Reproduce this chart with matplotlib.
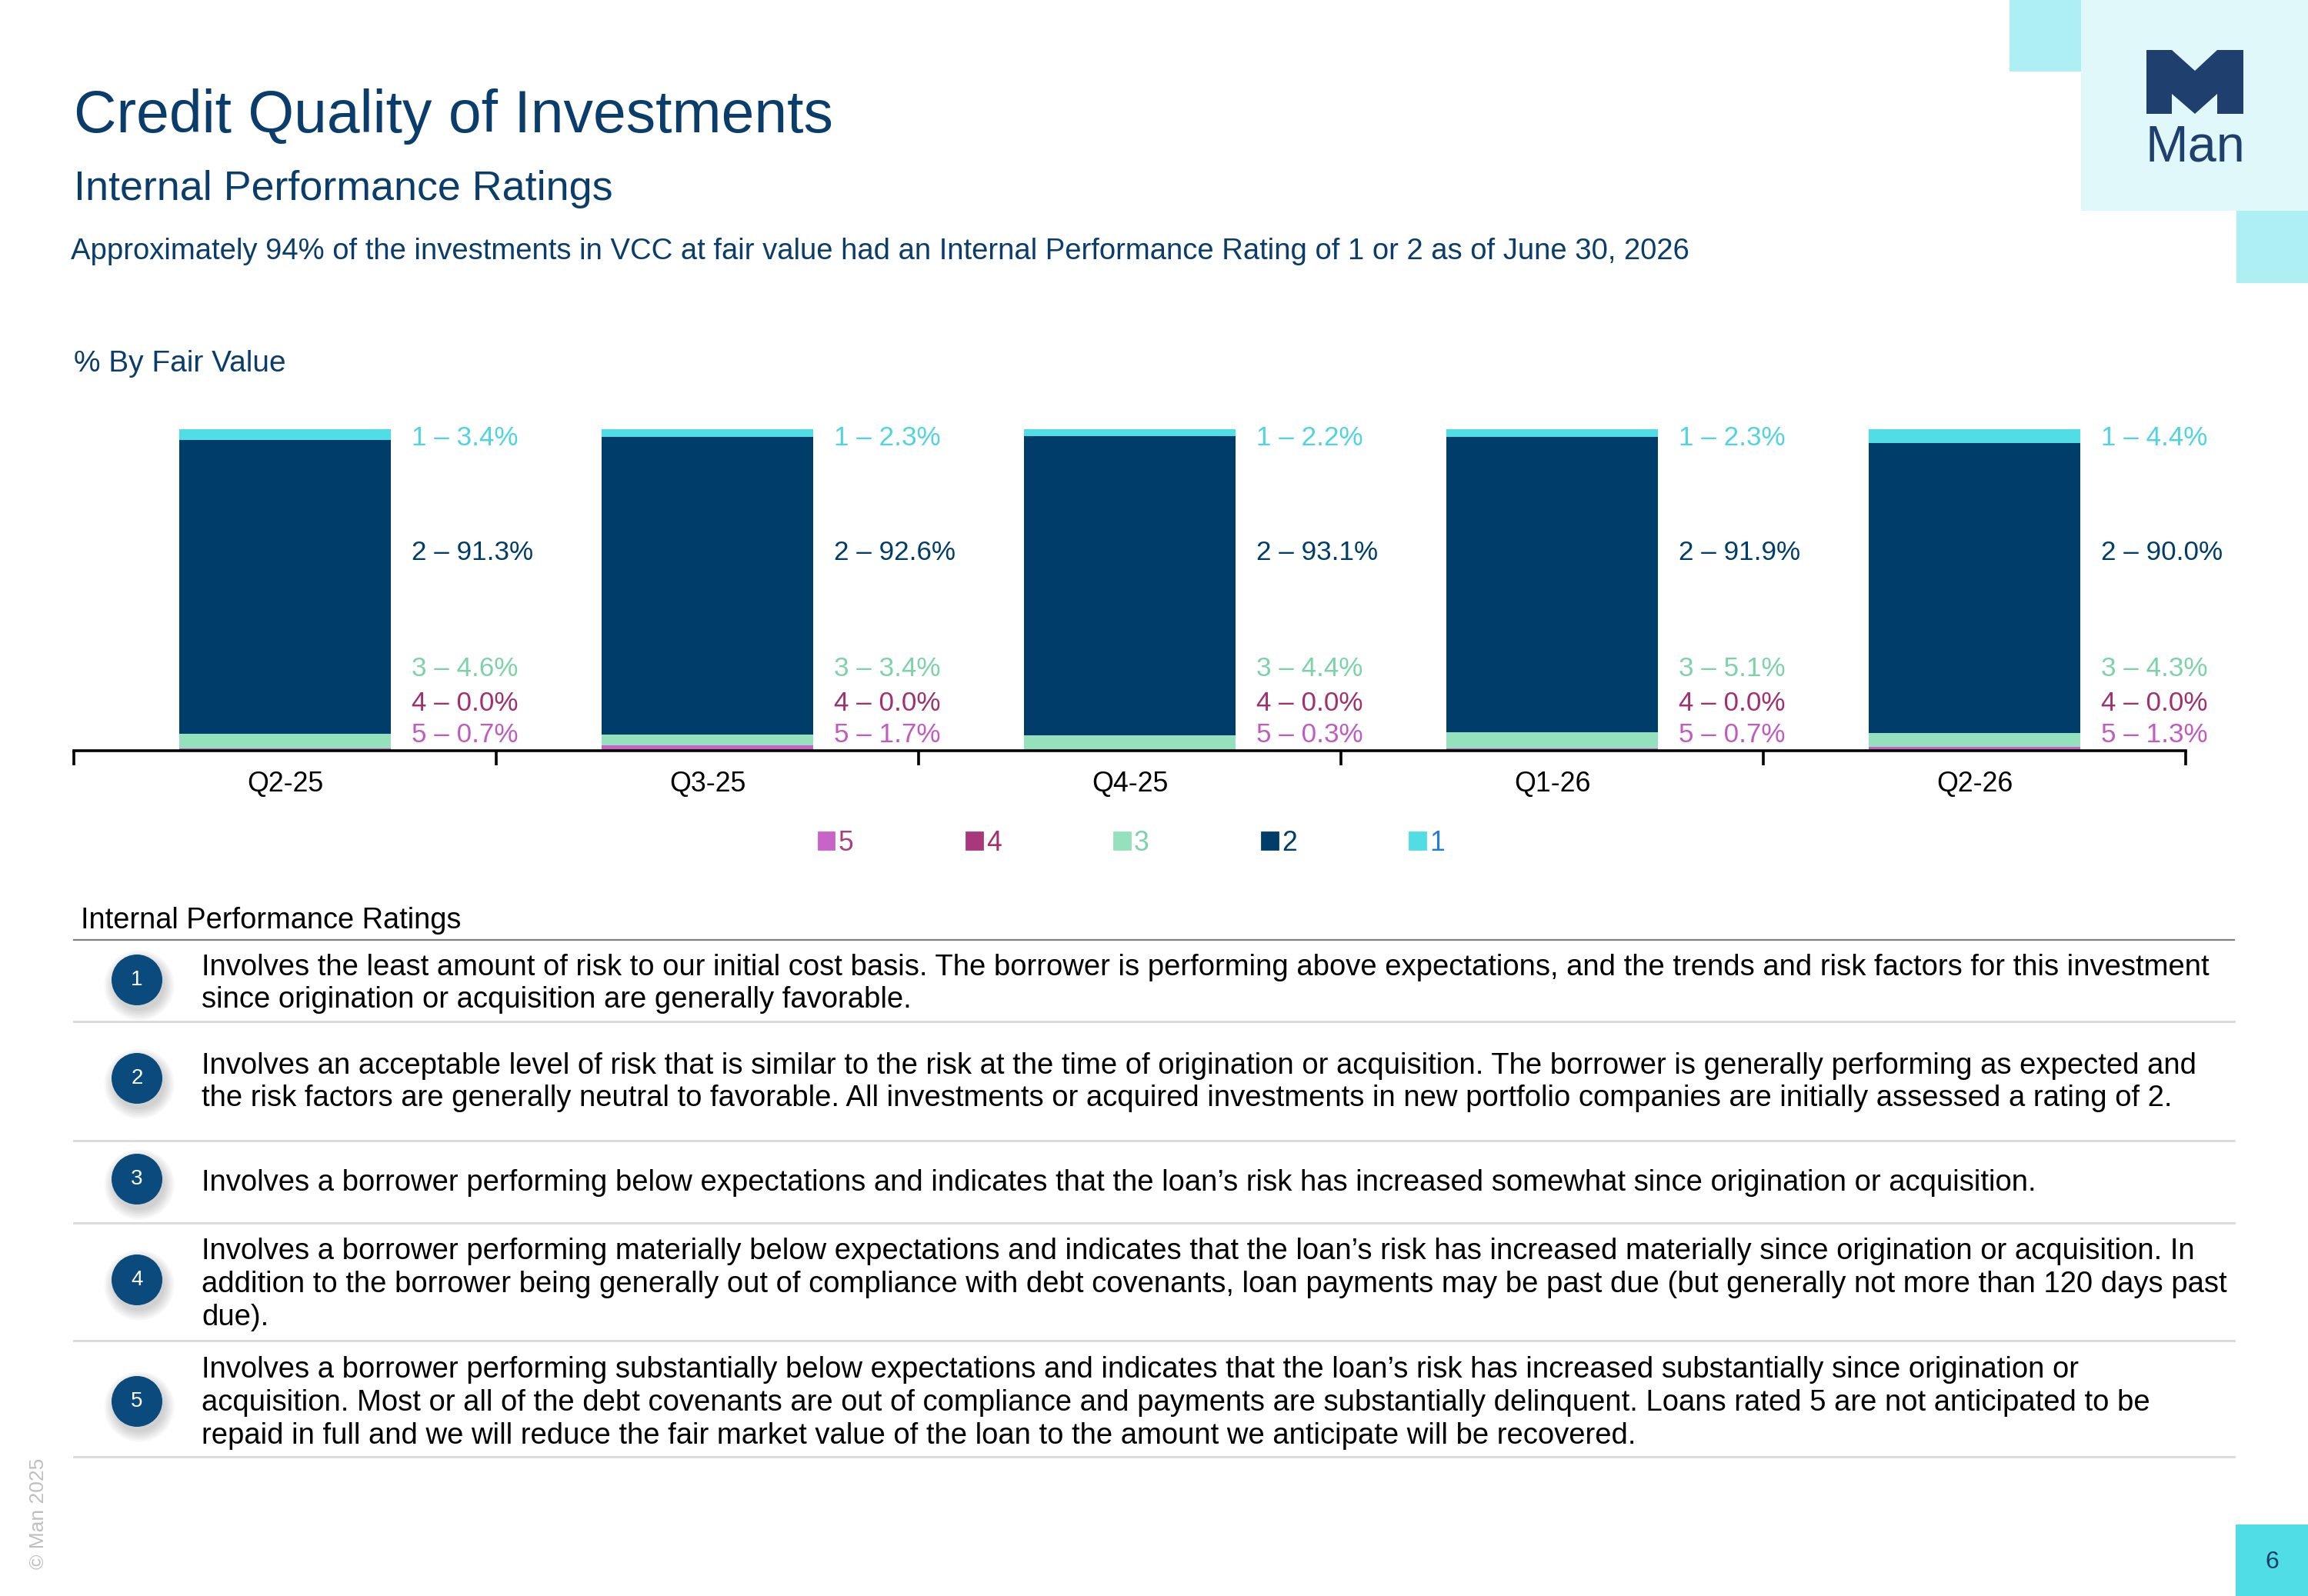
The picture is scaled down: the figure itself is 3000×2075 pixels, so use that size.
import matplotlib
matplotlib.use("Agg")
import matplotlib.pyplot as plt
from matplotlib.patches import Rectangle, Circle, Polygon, Patch
import numpy as np

plt.rcParams["font.family"] = ["Liberation Sans", "DejaVu Sans"]

# ── Datos ─────────────────────────────────────────────────────────────────────
quarters = ["Q2-25", "Q3-25", "Q4-25", "Q1-26", "Q2-26"]
ratings = ["5", "4", "3", "2", "1"]          # orden de apilado (abajo → arriba)
rating_5 = [0.7, 1.7, 0.3, 0.7, 1.3]
rating_4 = [0.0, 0.0, 0.0, 0.0, 0.0]
rating_3 = [4.6, 3.4, 4.4, 5.1, 4.3]
rating_2 = [91.3, 92.6, 93.1, 91.9, 90.0]
rating_1 = [3.4, 2.3, 2.2, 2.3, 4.4]
series = [rating_5, rating_4, rating_3, rating_2, rating_1]

rating_texts = [
    "Involves the least amount of risk to our initial cost basis. The borrower is performing above expectations, and the trends and risk factors for this investment\n"
    "since origination or acquisition are generally favorable.",
    "Involves an acceptable level of risk that is similar to the risk at the time of origination or acquisition. The borrower is generally performing as expected and\n"
    "the risk factors are generally neutral to favorable. All investments or acquired investments in new portfolio companies are initially assessed a rating of 2.",
    "Involves a borrower performing below expectations and indicates that the loan\u2019s risk has increased somewhat since origination or acquisition.",
    "Involves a borrower performing materially below expectations and indicates that the loan\u2019s risk has increased materially since origination or acquisition. In\n"
    "addition to the borrower being generally out of compliance with debt covenants, loan payments may be past due (but generally not more than 120 days past\n"
    "due).",
    "Involves a borrower performing substantially below expectations and indicates that the loan\u2019s risk has increased substantially since origination or\n"
    "acquisition. Most or all of the debt covenants are out of compliance and payments are substantially delinquent. Loans rated 5 are not anticipated to be\n"
    "repaid in full and we will reduce the fair market value of the loan to the amount we anticipate will be recovered.",
]

# ── Estilo ────────────────────────────────────────────────────────────────────
NAVY = "#0A3D6B"
bar_colors = ["#C863C8", "#A8387A", "#96E1BD", "#003D6B", "#50DDE6"]
label_colors = ["#C05CC0", "#A0306E", "#7DD3A8", "#003D6B", "#50D4E0"]
legend_text_colors = ["#A8407E", "#A0306E", "#7DD3A8", "#003D6B", "#1E7FD8"]
label_y = [5.0, 14.8, 25.5, 61.5, 97.3]   # altura de cada etiqueta (en %)

W, H = 3000, 2075
fig = plt.figure(figsize=(15, 10.375), dpi=200)

# capa de fondo en píxeles (y hacia abajo)
bg = fig.add_axes([0, 0, 1, 1], zorder=0)
bg.set_xlim(0, W)
bg.set_ylim(H, 0)
bg.axis("off")

# logo y bloques decorativos
bg.add_patch(Rectangle((2612, 0), 93, 93, color="#AEEFF4", lw=0))
bg.add_patch(Rectangle((2705, 0), 295, 274, color="#E1F8FA", lw=0))
bg.add_patch(Rectangle((2907, 274), 93, 94, color="#AEEFF4", lw=0))
m_shape = [(2790, 65), (2823, 65), (2853, 92), (2882, 65), (2916, 65), (2916, 148),
           (2882, 148), (2882, 122), (2853, 148), (2823, 122), (2823, 148), (2790, 148)]
bg.add_patch(Polygon(m_shape, closed=True, color="#1F3F6E", lw=0))
bg.text(2853, 210, "Man", fontsize=24, color="#1F3F6E", ha="center", va="baseline")

# títulos
bg.text(96, 172, "Credit Quality of Investments", fontsize=27.7, color=NAVY, va="baseline")
bg.text(96, 260, "Internal Performance Ratings", fontsize=19.4, color=NAVY, va="baseline")
bg.text(92, 337, "Approximately 94% of the investments in VCC at fair value had an Internal "
        "Performance Rating of 1 or 2 as of June 30, 2026",
        fontsize=13.75, color=NAVY, va="baseline")
bg.text(96, 483, "% By Fair Value", fontsize=14, color=NAVY, va="baseline")

# ── Gráfico de barras apiladas ───────────────────────────────────────────────
ax = fig.add_axes([96 / W, 1 - 976 / H, (2841 - 96) / W, (976 - 558) / H], zorder=2)
ax.set_facecolor("none")
x = np.arange(len(quarters))
bottom = np.zeros(len(quarters))
for name, vals, color, lcol, ly in zip(ratings, series, bar_colors, label_colors, label_y):
    ax.bar(x, vals, width=0.5, bottom=bottom, color=color, lw=0)
    bottom += np.array(vals)
    for xi, v in zip(x, vals):
        ax.text(xi + 0.30, ly, f"{name} \u2013 {v:.1f}%", color=lcol, fontsize=12.6,
                ha="left", va="center", clip_on=False)

ax.set_xlim(-0.5, len(quarters) - 0.5)
ax.set_ylim(0, 100)
ax.set_yticks([])
for s in ["left", "right", "top"]:
    ax.spines[s].set_visible(False)
ax.spines["bottom"].set_linewidth(1.3)
ax.set_xticks(np.arange(len(quarters) + 1) - 0.5)
ax.tick_params(axis="x", which="major", length=7, width=1.3, labelbottom=False)
ax.set_xticks(x, minor=True)
ax.set_xticklabels(quarters, minor=True)
ax.tick_params(axis="x", which="minor", length=0, pad=9.5, labelsize=12.9)

handles = [Patch(color=c) for c in bar_colors]
leg = fig.legend(handles, ratings, loc="center", bbox_to_anchor=(1471 / W, 1 - 1096 / H),
                 ncol=5, frameon=False, fontsize=12.8, handlelength=0.58,
                 handleheight=0.58, handletextpad=0.15, columnspacing=4.12)
for t, c in zip(leg.get_texts(), legend_text_colors):
    t.set_color(c)

# ── Tabla de calificaciones ──────────────────────────────────────────────────
bg.text(105, 1207, "Internal Performance Ratings", fontsize=13.7, color="black", va="baseline")
bg.plot([96, 2904], [1222, 1222], color="#808080", lw=0.8)
row_lines = [1328, 1483, 1590, 1743, 1894]
circle_y = [1274, 1402, 1533, 1664, 1822]
text_shift = [5, 5, 5, 6, 2]
for i, (txt, cy, ly, dy) in enumerate(zip(rating_texts, circle_y, row_lines, text_shift)):
    for k in range(6):
        bg.add_patch(Circle((181, cy + 7), 33 + k * 2.5, color="black", alpha=0.03, lw=0))
    bg.add_patch(Circle((178, cy), 33, color="#0B4A7C", lw=0))
    bg.text(178, cy, str(i + 1), color="white", fontsize=10, ha="center", va="center")
    bg.text(262, cy + dy, txt, fontsize=13.76, color="black", ha="left", va="center",
            linespacing=1.24)
    bg.plot([96, 2904], [ly, ly], color="#D9D9D9", lw=1)

# pie de página
bg.text(50, 1968, "\u00a9 Man 2025", rotation=90, fontsize=9.5, color="#BFBFBF",
        ha="center", va="center")
bg.add_patch(Rectangle((2906, 1982), 94, 93, color="#50DDE6", lw=0))
bg.text(2953, 2031, "6", fontsize=11.5, color=NAVY, ha="center", va="center")

fig.savefig("out.png", dpi=200)
plt.close(fig)
